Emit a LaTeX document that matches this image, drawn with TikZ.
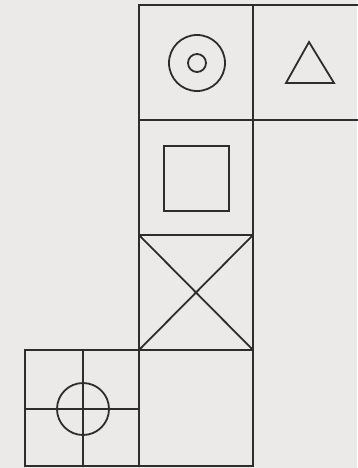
\documentclass[tikz,border=0pt]{standalone}
\definecolor{paper}{RGB}{236,234,233}
\definecolor{ink}{RGB}{45,45,45}
\tikzset{grid line/.style={draw=ink,line width=2pt},
         figure line/.style={draw=ink,line width=1.8pt}}
\begin{document}
\begin{tikzpicture}[x=1pt,y=-1pt]
\fill[paper] (0,0) rectangle (357,468);
\useasboundingbox (0,0) rectangle (357,468);
% grid cells
\draw[grid line] (139,5) rectangle (253,120);
\draw[grid line] (253,5) -- (360,5);
\draw[grid line] (253,120) -- (360,120);
\draw[grid line] (139,120) rectangle (253,235);
\draw[grid line] (139,235) rectangle (253,350);
\draw[grid line] (139,350) rectangle (253,466);
\draw[grid line] (25,350) rectangle (139,466);
% concentric circles
\draw[figure line] (197,63) circle (28);
\draw[figure line] (197,63) circle (9);
% triangle
\draw[figure line,line join=miter] (309,42) -- (334,83) -- (286,83) -- cycle;
% square
\draw[figure line] (164,146) rectangle (229,211);
% X
\draw[figure line] (139,235) -- (253,350);
\draw[figure line] (253,235) -- (139,350);
% cross with circle
\draw[figure line] (83,350) -- (83,466);
\draw[figure line] (25,409) -- (139,409);
\draw[figure line] (83,409) circle (26);
\end{tikzpicture}
\end{document}
